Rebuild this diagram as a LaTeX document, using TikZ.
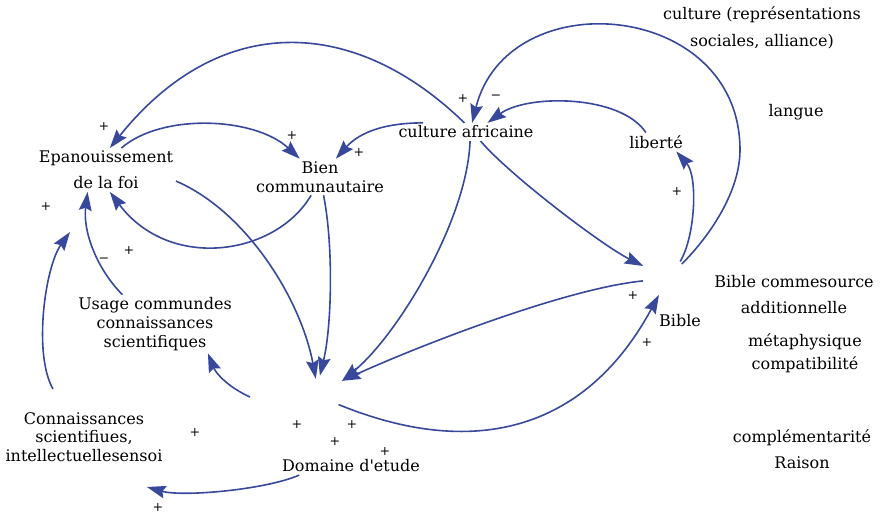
\documentclass[tikz,border=0pt]{standalone}
\usepackage{fontspec}
\setmainfont{DejaVu Serif}
\usetikzlibrary{arrows.meta}
\definecolor{linkblue}{RGB}{56,72,155}

\begin{document}
\begin{tikzpicture}[x=0.75pt,y=-0.75pt,
  var/.style={align=center,inner sep=2pt,font=\fontsize{12}{14}\selectfont},
  sgn/.style={inner sep=0pt,font=\fontsize{9.5}{10}\selectfont},
  hub/.style={circle,draw=none,inner sep=0pt},
  link/.style={draw=linkblue,line width=1.2pt,-{Stealth[length=14pt,width=9.5pt,inset=2pt]}}]

\useasboundingbox (0,0) rectangle (883,520);

\node[var] (epa) at (106,170) {Epanouissement\\[5.5pt]de la foi};
\node[var] (bien) at (320,177) {Bien\\communautaire};
\node[var] (ca) at (466,132) {culture africaine};
\node[var] (lib) at (656,142) {liberté};
\node[var] (cul) at (762,28) {culture (représentations\\[6pt]sociales, alliance)};
\node[var] (lan) at (796,112) {langue};
\node[var] (usg) at (155,324) {Usage commundes\\connaissances\\scientifiques};
\node[var] (con) at (84,437) {Connaissances\\scientifiues,\\intellectuellesensoi};
\node[var] (dom) at (351,466) {Domaine d\textquotesingle etude};
\node[hub,minimum size=25.5pt] (domhub) at (328,391) {};
\node[hub,minimum size=31.5pt] (bib) at (663,274) {};
\node[var] (bibtxt) at (680,321) {Bible};
\node[var] (bcs) at (794,295) {Bible commesource\\[5.5pt]additionnelle};
\node[var] (met) at (805,353) {métaphysique\\[3pt]compatibilité};
\node[var] (cpl) at (802,449) {complémentarité\\[5.5pt]Raison};

% liens
\draw[link] (ca.100) .. controls +(-110,-107) and +(110,-137) .. (epa.80);
\draw[link] (epa.55) .. controls +(40,-35) and +(-45,-42) .. (bien.138);
\draw[link] (ca.168) .. controls +(-35,0) and +(25,-28) .. (bien.49);
\draw[link] (bien.-116) .. controls +(-35,60) and +(60,80) .. (epa.-80);
\draw[link] (epa.-9) .. controls +(70,30) and +(-15,-80) .. (domhub.135);
\draw[link] (bien.-79) .. controls +(10,50) and +(12,-50) .. (domhub.118);
\draw[link] (ca.-66) .. controls +(-3,80) and +(55,-45) .. (domhub.36);
\draw[link] (bib.199) .. controls +(-80,8) and +(70,-32) .. (domhub.36);
\draw[link] (usg.138) .. controls +(-25,-25) and +(-5,40) .. (epa.-130);
\draw[link] ([shift={(-31,-48)}]con.center) .. controls +(-20,-35) and +(-25,35) .. ([shift={(-36,62)}]epa.center);
\draw[link] ([shift={(-78,6)}]domhub.center) .. controls +(-22,-10) and +(8,20) .. (usg.-29);
\draw[link] (dom.-170) .. controls +(-35,15) and +(35,10) .. ([shift={(63,50)}]con.center);
\draw[link] (domhub.-52) .. controls +(142,58) and +(-70,130) .. (bib.-101);
\draw[link] (ca.-32) .. controls +(30,35) and +(-40,-20) .. (bib.158);
\draw[link] (bib.28) .. controls +(30,-30) and +(0,40) .. (740,150) .. controls +(0,-150) and +(35,-142) .. (ca.56);
\draw[link] (lib.137) .. controls +(-25,-38) and +(40,-29) .. (ca.23);
\draw[link] (bib.36) .. controls +(15,-25) and +(22,25) .. (lib.-25);

% signes
\foreach \i/\x/\y/\s in {1/104/127/+, 2/292/136/+, 3/359/153/+, 4/46/207/+,
  5/129/251/+, 6/104/260/−, 7/463/99/+, 8/496/97/−, 9/677/192/+,
  10/633/296/+, 11/647/343/+, 12/195/433/+, 13/297/425/+, 14/352/425/+,
  15/335/442/+, 16/385/452/+, 17/158/508/+}
  \node[sgn] (sg\i) at (\x,\y) {\s};

\end{tikzpicture}
\end{document}
